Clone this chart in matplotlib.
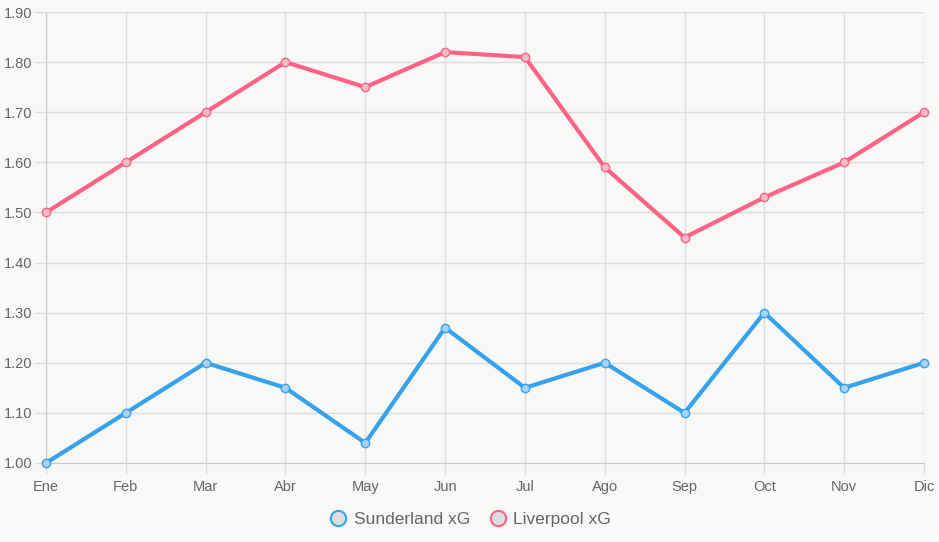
import matplotlib.pyplot as plt
from matplotlib.lines import Line2D

months = ['Ene', 'Feb', 'Mar', 'Abr', 'May', 'Jun', 'Jul', 'Ago', 'Sep', 'Oct', 'Nov', 'Dic']
sunderland = [1.00, 1.10, 1.20, 1.15, 1.04, 1.27, 1.15, 1.20, 1.10, 1.30, 1.15, 1.20]
liverpool = [1.50, 1.60, 1.70, 1.80, 1.75, 1.82, 1.81, 1.59, 1.45, 1.53, 1.60, 1.70]
yticks = [1.0, 1.1, 1.2, 1.3, 1.4, 1.5, 1.6, 1.7, 1.8, 1.9]

blue = '#36a2eb'
pink = '#ff6384'
bg = '#f8f8f7'
grid = '#dddddd'
txt = '#666666'

plt.rcParams['font.family'] = ['Liberation Sans', 'DejaVu Sans']

fig = plt.figure(figsize=(9.39, 5.42), dpi=100, facecolor=bg)
ax = fig.add_axes([46 / 939, 1 - 463 / 542, 878 / 939, 451 / 542])
ax.set_facecolor(bg)

x = list(range(len(months)))
ax.plot(x, sunderland, color=blue, lw=3, marker='o', ms=6, mfc='#a9d3f0', mec=blue, mew=1.0,
        zorder=3, clip_on=False)
ax.plot(x, liverpool, color=pink, lw=3, marker='o', ms=6, mfc='#f3bcc8', mec=pink, mew=1.0,
        zorder=3, clip_on=False)

ax.set_xlim(0, 11)
ax.set_ylim(1.0, 1.9)
ax.set_xticks(x)
ax.set_xticklabels(months)
ax.set_yticks(yticks)
ax.set_yticklabels([f'{v:.2f}' for v in yticks])
ax.grid(True, color=grid, lw=1)
ax.set_axisbelow(True)
for s in ax.spines.values():
    s.set_visible(False)
ax.spines['left'].set_visible(True)
ax.spines['bottom'].set_visible(True)
ax.spines['left'].set_color('#cccccc')
ax.spines['bottom'].set_color('#cccccc')
ax.tick_params(axis='both', colors=grid, labelcolor=txt, labelsize=10.5, length=8, width=1, pad=2)
ax.tick_params(axis='x', pad=4)

handles = [
    Line2D([], [], ls='none', marker='o', ms=11, mfc='#dddddd', mec=blue, mew=1.5),
    Line2D([], [], ls='none', marker='o', ms=11, mfc='#dddddd', mec=pink, mew=1.5),
]
fig.legend(handles, ['Sunderland xG', 'Liverpool xG'], loc='center', bbox_to_anchor=(0.5, 1 - 519 / 542),
           ncol=2, frameon=False, fontsize=12.5, labelcolor=txt, handletextpad=0.3, columnspacing=1.0,
           handlelength=1.2)

fig.savefig('out.png', dpi=100, facecolor=bg)
